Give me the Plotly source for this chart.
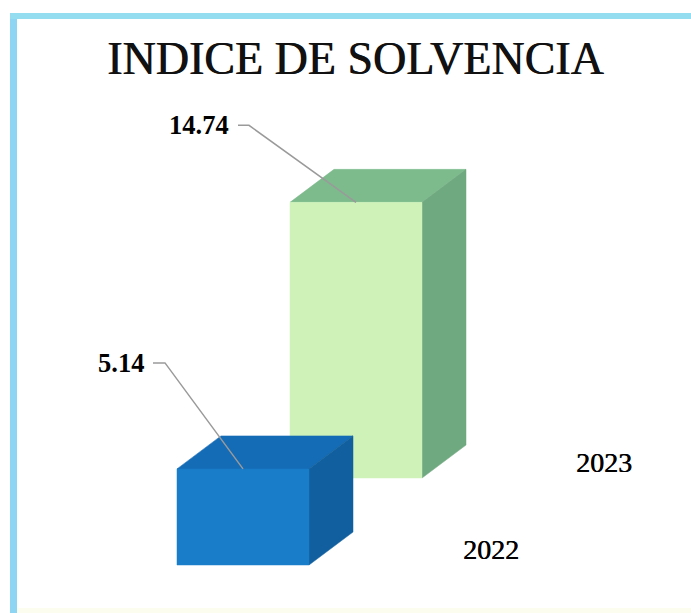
import plotly.graph_objects as go

# Data
categories = ["2022", "2023"]
values = [5.14, 14.74]
value_labels = ["5.14", "14.74"]
title_text = "INDICE DE SOLVENCIA"

# Style
front_colors = ["#1A7DC9", "#CFF2B9"]
top_colors = ["#146BB6", "#7DBB8D"]
side_colors = ["#115F9F", "#6FA97F"]
FONT = "Liberation Serif"
W, H = 691, 613
PX_X = 113.0      # pixels per category step
PX_Y = 18.7       # pixels per value unit
ORIGIN_X = 243.0  # pixel of first category centre
ORIGIN_Y = 565.0  # pixel of value 0 on first category floor
HALF = 66 / PX_X
DX = 44 / PX_X
DY = 33 / PX_Y
LIFT = 87 / PX_Y  # floor rise per category

fig = go.Figure()


def poly(xs, ys, color):
    fig.add_trace(go.Scatter(
        x=xs + xs[:1], y=ys + ys[:1], mode="lines", fill="toself",
        fillcolor=color, line=dict(color=color, width=0.5),
        hoverinfo="skip", showlegend=False))


# Rear category first so the nearer bar overlaps it
for i in reversed(range(len(categories))):
    base = i * LIFT
    top = base + values[i]
    l, r = i - HALF, i + HALF
    poly([l, r, r + DX, l + DX], [top, top, top + DY, top + DY], top_colors[i])
    poly([r, r + DX, r + DX, r], [base, base + DY, top + DY, top], side_colors[i])
    poly([l, r, r, l], [base, base, top, top], front_colors[i])

# Leader lines and value labels, anchored on the top of each bar's front face
label_right_px = [(146 - 243) / PX_X, (231 - 356) / PX_X]
label_rise_px = [106 / PX_Y, 77 / PX_Y]
elbow_px = [((153 - 243) / PX_X, (165 - 243) / PX_X), ((238 - 356) / PX_X, (249 - 356) / PX_X)]
annotations = []
for i, cat in enumerate(categories):
    top = i * LIFT + values[i]
    ly = top + label_rise_px[i]
    fig.add_trace(go.Scatter(
        x=[i + elbow_px[i][0], i + elbow_px[i][1], i], y=[ly, ly, top],
        mode="lines", line=dict(color="#9A9A9A", width=1.5),
        hoverinfo="skip", showlegend=False))
    annotations.append(dict(
        x=i + label_right_px[i], y=ly, xref="x", yref="y", text=f"<b>{value_labels[i]}</b>",
        showarrow=False, xanchor="right", yanchor="middle",
        font=dict(family=FONT, size=26.5, color="#000000")))
    annotations.append(dict(
        x=i + 248 / PX_X, y=i * LIFT + 16 / PX_Y, xref="x", yref="y", text=cat,
        showarrow=False, xanchor="center", yanchor="middle",
        font=dict(family=FONT, size=28, color="#000000", shadow="0.4px 0 0 #000000")))
annotations.append(dict(
    x=355.5 / W, y=1 - 58 / H, xref="paper", yref="paper", text=title_text,
    showarrow=False, xanchor="center", yanchor="middle",
    font=dict(family=FONT, size=46, color="#111111", shadow="0.7px 0 0 #111111")))

frame = [
    dict(x0=10 / W, x1=17 / W, y0=0, y1=1 - 13 / H, fillcolor="#8DD5F3"),
    dict(x0=10 / W, x1=1, y0=1 - 19 / H, y1=1 - 13 / H, fillcolor="#94DCF0"),
    dict(x0=17 / W, x1=1, y0=0, y1=5 / H, fillcolor="#FCFDEE"),
]
shapes = [dict(type="rect", xref="paper", yref="paper", line=dict(width=0), layer="below", **f)
          for f in frame]

fig.update_layout(
    width=W, height=H, autosize=False,
    margin=dict(l=0, r=0, t=0, b=0),
    paper_bgcolor="white", plot_bgcolor="rgba(0,0,0,0)",
    xaxis=dict(visible=False, range=[-ORIGIN_X / PX_X, (W - ORIGIN_X) / PX_X], fixedrange=True),
    yaxis=dict(visible=False, range=[-(H - ORIGIN_Y) / PX_Y, ORIGIN_Y / PX_Y], fixedrange=True),
    annotations=annotations, shapes=shapes, showlegend=False,
)
fig.write_html(
    "out.html",
    config=dict(displayModeBar=False),
    post_script="document.documentElement.style.margin='0';document.body.style.margin='0';document.body.style.overflow='hidden';",
)
